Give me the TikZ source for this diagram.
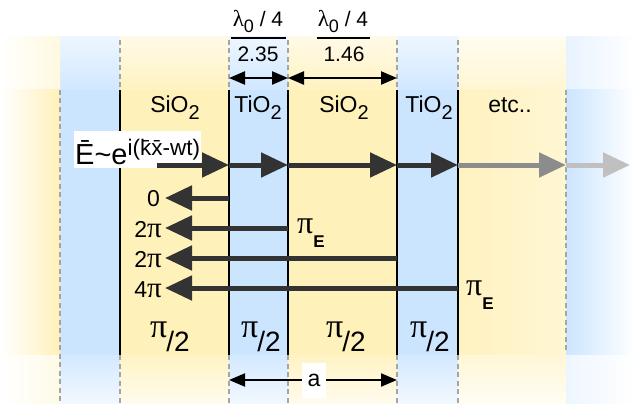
\documentclass[tikz,border=0pt]{standalone}
\usepackage{fontspec}
\setmainfont{Liberation Sans}
\newfontfamily\grk{Liberation Serif}
\usetikzlibrary{arrows.meta}
\definecolor{ylw}{RGB}{255,241,186}
\definecolor{blu}{RGB}{204,229,255}
\definecolor{dk}{RGB}{51,51,51}
\definecolor{gmid}{RGB}{140,140,140}
\definecolor{glt}{RGB}{192,192,192}
\definecolor{dashc}{RGB}{165,165,165}
\newcommand\fs[1]{\fontsize{#1}{#1}\selectfont}
\newcommand\subsc[1]{\raisebox{-8pt}{\fs{20}#1}}
\newcommand\pihalf{\raisebox{14pt}{\fs{34}\grk π}\kern-1pt{\fs{28}/2}}
\newcommand\piE{{\fs{32}\grk π}\raisebox{-14pt}{\fs{17}\bfseries E}}
\begin{document}
\begin{tikzpicture}[x=1pt,y=-1pt,
  txt/.style={inner sep=0pt, font=\fs{23}},
  bnd/.style={line width=2.6pt, black},
  dsh/.style={line width=2.4pt, dashc, dash pattern=on 5pt off 3.5pt},
  bigarr/.style={line width=5pt, -{Triangle[length=27pt,width=24pt]}},
  dimarr/.style={line width=2.4pt, {Triangle[length=16pt,width=13pt]}-{Triangle[length=16pt,width=13pt]}},
]
\useasboundingbox (0,0) rectangle (635,404);
% ---- fills
\foreach \xa/\xb/\c in {60/120/blu,120/229/ylw,229/288/blu,288/397/ylw,397/458/blu} {
  \shade[top color=\c!35!white, bottom color=\c!90!white] (\xa,37) rectangle (\xb,90);
  \fill[\c] (\xa,90) rectangle (\xb,355);
  \shade[top color=\c!85!white, bottom color=\c!25!white] (\xa,355) rectangle (\xb,404);
}
% etc column
\shade[top color=ylw!20!white, bottom color=ylw!65!white] (458,37) rectangle (566,90);
\shade[left color=ylw!90!white, right color=ylw!65!white] (458,90) rectangle (566,355);
\shade[top color=ylw!60!white, bottom color=ylw!15!white] (458,355) rectangle (566,404);
% outer strips
\shade[left color=white, right color=ylw!45!white] (0,37) rectangle (60,90);
\shade[left color=white, right color=ylw] (0,90) rectangle (60,355);
\shade[left color=white, right color=ylw!35!white] (0,355) rectangle (60,404);
\shade[left color=blu!45!white, right color=white] (566,37) rectangle (635,90);
\shade[left color=blu, right color=white] (566,90) rectangle (635,355);
\shade[left color=blu!35!white, right color=white] (566,355) rectangle (635,404);
% ---- interfaces
\foreach \x in {120,229,288,397,458} {
  \coordinate (t\x) at (\x,40);
  \coordinate (u\x) at (\x,90);
  \coordinate (v\x) at (\x,355);
  \coordinate (w\x) at (\x,404);
  \draw[dsh] (t\x) -- (u\x);
  \draw[bnd] (u\x) -- (v\x);
  \draw[dsh] (v\x) -- (w\x);
}
\coordinate (o1) at (60,90); \coordinate (o2) at (60,404);
\coordinate (o3) at (566,90); \coordinate (o4) at (566,352);
\draw[dsh] (o1) -- (o2);
\draw[dsh] (o3) -- (o4);
% ---- top dimensions
\node[txt, font=\fs{21}, anchor=base] (lamA) at (258,27) {{\grk\fs{23}λ}\raisebox{-6pt}{\fs{18}0} / 4};
\node[txt, font=\fs{21}, anchor=base] (nA) at (258,62) {2.35};
\node[txt, font=\fs{21}, anchor=base] (lamB) at (343,27) {{\grk\fs{23}λ}\raisebox{-6pt}{\fs{18}0} / 4};
\node[txt, font=\fs{21}, anchor=base] (nB) at (344,62) {1.46};
\coordinate (fa1) at (231,38); \coordinate (fa2) at (286,38);
\coordinate (fb1) at (317,38); \coordinate (fb2) at (370,38);
\draw[line width=2.8pt] (fa1) -- (fa2);
\draw[line width=2.8pt] (fb1) -- (fb2);
\coordinate (d1) at (229,78); \coordinate (d2) at (288,78); \coordinate (d3) at (397,78);
\draw[dimarr] (d1) -- (d2);
\draw[dimarr] (d2) -- (d3);
% ---- layer names
\node[txt, anchor=base] (m1) at (175,112) {SiO\subsc{2}};
\node[txt, anchor=base] (m2) at (258,112) {TiO\subsc{2}};
\node[txt, anchor=base] (m3) at (344,112) {SiO\subsc{2}};
\node[txt, anchor=base] (m4) at (429,112) {TiO\subsc{2}};
\node[txt, anchor=base] (m5) at (510,113) {etc..};
% ---- incident wave
\node[anchor=base west, fill=white, inner xsep=1pt, inner ysep=0pt, text height=33pt, text depth=4pt] (eq) at (74,164)
  {\fs{29}\=E\textasciitilde e\raisebox{9pt}{\fs{22.5}i(\=k\=x-wt)}};
\coordinate (f0) at (157,165); \coordinate (f1) at (229,165); \coordinate (f2) at (288,165);
\coordinate (f3) at (397,165); \coordinate (f4) at (458,165); \coordinate (f5) at (566,165);
\coordinate (f6) at (630,165);
\draw[bigarr, dk] (f0) -- (f1);
\draw[bigarr, dk] (f1) -- (f2);
\draw[bigarr, dk] (f2) -- (f3);
\draw[bigarr, dk] (f3) -- (f4);
\draw[bigarr, gmid] (f4) -- (f5);
\draw[bigarr, glt] (f5) -- (f6);
% ---- reflected waves
\coordinate (r0a) at (229,198); \coordinate (r0b) at (165,198);
\coordinate (r1a) at (288,228); \coordinate (r1b) at (165,228);
\coordinate (r2a) at (397,258); \coordinate (r2b) at (165,258);
\coordinate (r3a) at (458,288); \coordinate (r3b) at (165,288);
\draw[bigarr, dk] (r0a) -- (r0b);
\draw[bigarr, dk] (r1a) -- (r1b);
\draw[bigarr, dk] (r2a) -- (r2b);
\draw[bigarr, dk] (r3a) -- (r3b);
\node[txt, anchor=base east] (p0) at (160,206) {0};
\node[txt, anchor=base east] (p1) at (162,237) {2{\grk\fs{29}π}};
\node[txt, anchor=base east] (p2) at (162,267) {2{\grk\fs{29}π}};
\node[txt, anchor=base east] (p3) at (162,297) {4{\grk\fs{29}π}};
\node[txt, anchor=base west] (e1) at (297,233) {\piE};
\node[txt, anchor=base west] (e2) at (466,295) {\piE};
% ---- phase per layer
\node[txt, anchor=base] (h1) at (170,351) {\pihalf};
\node[txt, anchor=base] (h2) at (261,351) {\pihalf};
\node[txt, anchor=base] (h3) at (346,351) {\pihalf};
\node[txt, anchor=base] (h4) at (430,351) {\pihalf};
% ---- period
\coordinate (a1) at (229,380); \coordinate (a2) at (397,380);
\draw[dimarr, line width=2pt] (a1) -- (a2);
\node[txt, fill=white, minimum width=24pt, minimum height=35pt] (alab) at (314,380) {a};
\end{tikzpicture}
\end{document}
